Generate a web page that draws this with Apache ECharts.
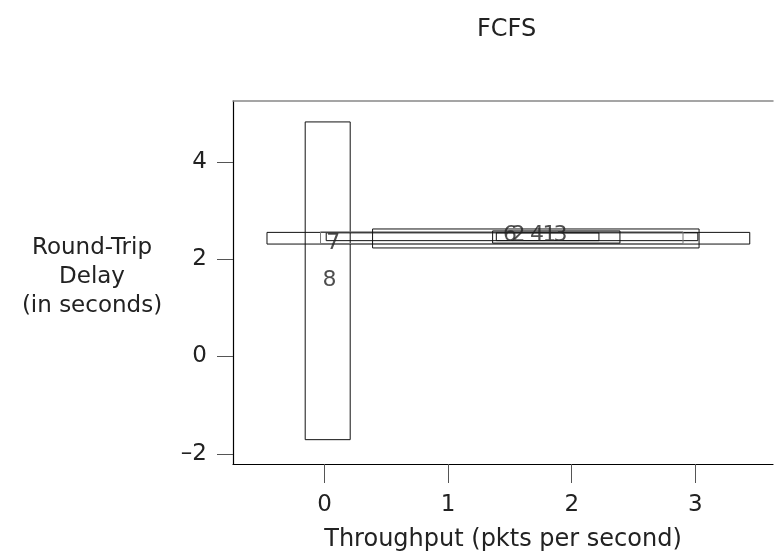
<!DOCTYPE html>
<html>
<head>
<meta charset="utf-8">
<script src="https://cdn.jsdelivr.net/npm/echarts@6/dist/echarts.min.js"></script>
<style>
  html, body { margin: 0; padding: 0; background: #fff; }
  #chart { width: 774px; height: 557px; }
</style>
</head>
<body>
<div id="chart"></div>
<script>
// point labels and their mean (throughput, delay)
var labels = ['8', '7', '6', '2', '4', '1', '3'];
var meanX = [0.04, 0.07, 1.50, 1.57, 1.72, 1.82, 1.91];
var meanY = [1.56, 2.33, 2.50, 2.50, 2.50, 2.50, 2.50];

// interval boxes: x from..to, y from..to
var boxX0 = [-0.156, 0.014, -0.465, -0.032, 0.389, 1.39, 1.36];
var boxX1 = [0.208, 3.02, 3.44, 2.90, 3.03, 2.22, 2.39];
var boxY0 = [-1.71, 2.38, 2.31, 2.32, 2.23, 2.38, 2.33];
var boxY1 = [4.82, 2.54, 2.55, 2.56, 2.62, 2.54, 2.58];

var xTicks = [0, 1, 2, 3];
var yTicks = [-2, 0, 2, 4];

var FONT = 'DejaVu Sans';

var chart = echarts.init(document.getElementById('chart'));

var boxData = labels.map(function (l, i) {
  return [boxX0[i], boxX1[i], boxY0[i], boxY1[i]];
});
var pointData = labels.map(function (l, i) {
  return { name: l, value: [meanX[i], meanY[i]] };
});

function renderBox(params, api) {
  var a = api.coord([api.value(0), api.value(3)]);
  var b = api.coord([api.value(1), api.value(2)]);
  return {
    type: 'rect',
    shape: { x: a[0], y: a[1], width: b[0] - a[0], height: b[1] - a[1] },
    style: { fill: 'none', stroke: params.dataIndex === 3 ? '#777' : '#111', lineWidth: 1 }
  };
}

var option = {
  animation: false,
  backgroundColor: '#fff',
  title: {
    text: 'FCFS',
    left: 472,
    top: 13,
    textStyle: { fontFamily: FONT, fontSize: 24, fontWeight: 'normal', color: '#222' }
  },
  graphic: [{
    type: 'text',
    x: 92,
    y: 277,
    style: {
      text: 'Round-Trip\nDelay\n(in seconds)',
      align: 'center',
      verticalAlign: 'middle',
      lineHeight: 29,
      font: '23px "DejaVu Sans"',
      fill: '#222'
    }
  }],
  grid: { left: 233, right: 1, top: 101, bottom: 89 },
  xAxis: [{
    type: 'value',
    min: -0.74,
    max: 3.628,
    splitLine: { show: false },
    axisLine: { show: true, onZero: false, lineStyle: { color: '#000', width: 1.2 } },
    axisTick: { show: true, length: 19, customValues: xTicks, lineStyle: { color: '#555' } },
    axisLabel: {
      customValues: xTicks, margin: 30,
      fontFamily: FONT, fontSize: 23, color: '#222'
    },
    name: 'Throughput (pkts per second)',
    nameLocation: 'middle',
    nameGap: 64,
    nameTextStyle: { fontFamily: FONT, fontSize: 24, color: '#222' }
  }, {
    type: 'value',
    position: 'top',
    min: -0.74,
    max: 3.628,
    splitLine: { show: false },
    axisLine: { show: true, onZero: false, lineStyle: { color: '#888', width: 1.5 } },
    axisTick: { show: false },
    axisLabel: { show: false }
  }],
  yAxis: {
    type: 'value',
    min: -2.21,
    max: 5.25,
    splitLine: { show: false },
    axisLine: { show: true, onZero: false, lineStyle: { color: '#000', width: 1.2 } },
    axisTick: { show: true, length: 16, customValues: yTicks, lineStyle: { color: '#555' } },
    axisLabel: {
      customValues: yTicks, margin: 26,
      fontFamily: FONT, fontSize: 23, color: '#222',
      formatter: function (v) { return String(v).replace('-', '\u2013'); }
    }
  },
  series: [{
    type: 'custom',
    renderItem: renderBox,
    encode: { x: [0, 1], y: [2, 3] },
    data: boxData,
    silent: true
  }, {
    type: 'scatter',
    symbolSize: 1,
    itemStyle: { color: 'rgba(0,0,0,0)' },
    label: {
      show: true,
      position: 'inside',
      formatter: '{b}',
      fontFamily: FONT,
      fontSize: 22,
      color: '#222'
    },
    data: pointData
  }]
};

chart.setOption(option);
</script>
</body>
</html>
